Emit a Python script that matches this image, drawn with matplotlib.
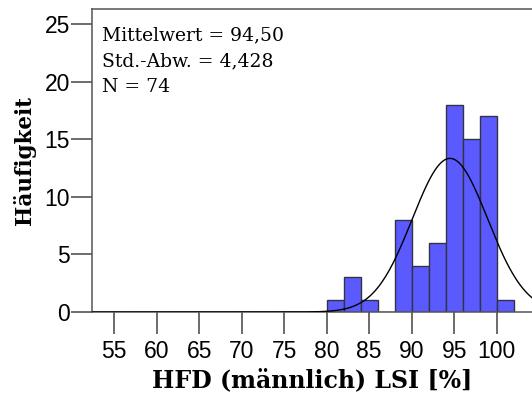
import numpy as np
import matplotlib
matplotlib.use("Agg")
import matplotlib.pyplot as plt

# histogram bins (width 2) and counts
bin_edges = [80, 82, 84, 86, 88, 90, 92, 94, 96, 98, 100, 102]
counts = [1, 3, 1, 0, 8, 4, 6, 18, 15, 17, 1]
mean, sd, n = 94.50, 4.428, 74
x_ticks = [55, 60, 65, 70, 75, 80, 85, 90, 95, 100]
y_ticks = [0, 5, 10, 15, 20, 25]

BAR, EDGE, SPINE = "#5a5aff", "#333344", "#555555"
SERIF = "DejaVu Serif"

fig = plt.figure(figsize=(5.32, 4.03), dpi=100)
ax = fig.add_axes([92 / 532, 91 / 403, 440 / 532, 303 / 403])

lefts = np.array(bin_edges[:-1]); widths = np.diff(bin_edges)
ax.bar(lefts, counts, width=widths, align="edge", color=BAR, edgecolor=EDGE, lw=1.0, zorder=2)

# fitted normal curve scaled to counts per bin
xs = np.linspace(52, 106, 400)
bw = bin_edges[1] - bin_edges[0]
ys = n * bw / (sd * np.sqrt(2 * np.pi)) * np.exp(-0.5 * ((xs - mean) / sd) ** 2)
ax.plot(xs, ys, color="black", lw=1.0, zorder=3)

ax.set_xlim(52.38, 104.15); ax.set_ylim(0, 26.3)
ax.set_xticks(x_ticks); ax.set_yticks(y_ticks)
ax.tick_params(axis="x", length=16, width=1.1, color="#444444", pad=4, labelsize=16.5)
ax.tick_params(axis="y", length=15, width=1.1, color="#444444", pad=1, labelsize=16.5)
for lab in ax.get_xticklabels() + ax.get_yticklabels():
    lab.set_fontfamily("Liberation Sans")
for s in ("left", "top", "bottom"):
    ax.spines[s].set_color(SPINE); ax.spines[s].set_linewidth(1.1)
ax.spines["right"].set_visible(False)

ax.set_xlabel("HFD (männlich) LSI [%]", family=SERIF, fontweight="bold", fontsize=17, labelpad=4)
ax.set_ylabel("Häufigkeit", family=SERIF, fontweight="bold", fontsize=15.5, labelpad=6)

for i, line in enumerate(["Mittelwert = 94,50", "Std.-Abw. = 4,428", "N = 74"]):
    ax.text(10 / 440, 1 - (31 + 26 * i) / 303, line, transform=ax.transAxes,
            va="baseline", ha="left", family=SERIF, fontsize=13.5)

fig.savefig("out.png", dpi=100)
